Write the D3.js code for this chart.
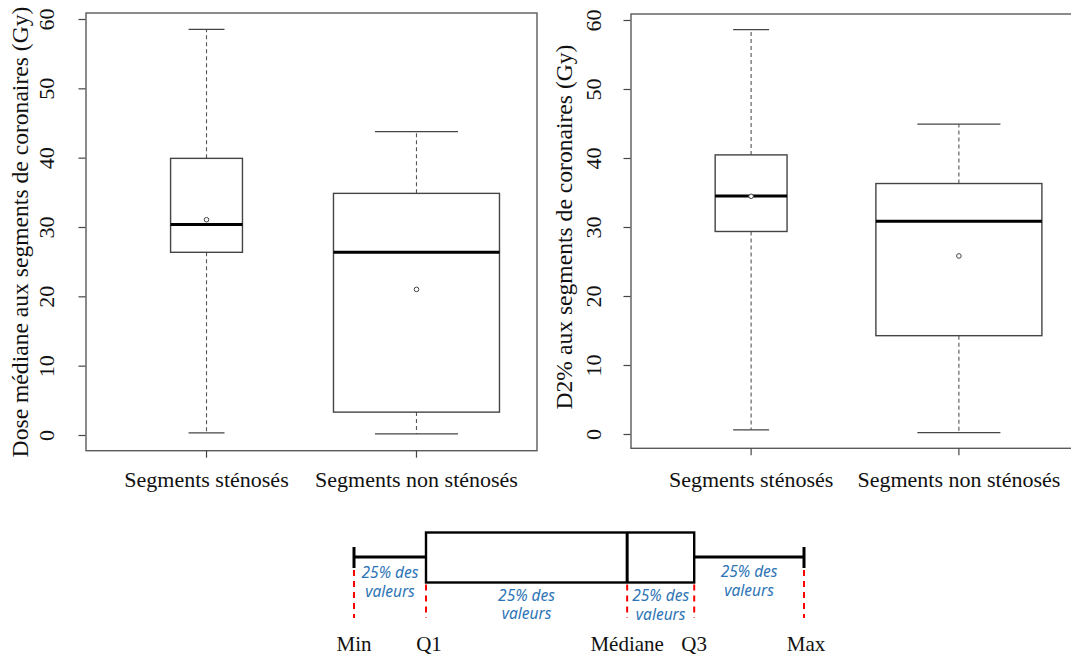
<!DOCTYPE html>
<html>
<head>
<meta charset="utf-8">
<script src="https://cdn.jsdelivr.net/npm/d3@7"></script>
<style>
  html, body { margin: 0; padding: 0; background: #fff; }
  svg { display: block; }
  .serif { font-family: 'Liberation Serif', 'Times New Roman', serif; }
</style>
</head>
<body>
<svg id="chart" width="1071" height="657"></svg>
<script>
// ---------------- DATA ----------------
const categories = ["Segments sténosés", "Segments non sténosés"];
const sampleCounts = [15, 80]; // box widths proportional to sqrt(n)
const yTicks = [0, 10, 20, 30, 40, 50, 60];

// Panel 1: Dose médiane
const doseMin    = [0.3, 0.15];
const doseQ1     = [26.35, 3.3];
const doseMedian = [30.35, 26.35];
const doseQ3     = [39.9, 34.85];
const doseMax    = [58.5, 43.75];
const doseMean   = [31.05, 21.0];

// Panel 2: D2%
const d2Min    = [0.6, 0.2];
const d2Q1     = [29.35, 14.25];
const d2Median = [34.5, 30.85];
const d2Q3     = [40.45, 36.3];
const d2Max    = [58.6, 44.9];
const d2Mean   = [34.45, 25.8];

// Schematic legend
const legendLabels = ["Min", "Q1", "Médiane", "Q3", "Max"];
const legendValues = [0, 16, 60.7, 75.6, 100];
const legendSpanText = ["25% des", "valeurs"];

// ---------------- DRAW ----------------
const svg = d3.select("#chart");
const serif = "'Liberation Serif', 'Times New Roman', serif";

function panel(cfg) {
  const g = svg.append("g");
  const x = d3.scalePoint().domain(categories).range([cfg.x0, cfg.x1]).padding(cfg.pad);
  const y = d3.scaleLinear().domain([0, 60]).range([cfg.yb, cfg.yt]);
  const wScale = d3.scaleSqrt().domain([0, d3.max(sampleCounts)]).range([0, 166]);

  // frame
  g.append("rect")
    .attr("x", cfg.x0).attr("y", cfg.fy0)
    .attr("width", cfg.x1 - cfg.x0).attr("height", cfg.fy1 - cfg.fy0)
    .attr("fill", "none").attr("stroke", "#5a5a5a").attr("stroke-width", 1.4);

  // y axis ticks
  const ax = g.append("g").attr("transform", `translate(${cfg.x0 - 0.5},0)`)
    .call(d3.axisLeft(y).tickValues(yTicks).tickSize(7).tickFormat(d3.format("d")));
  ax.attr("font-family", null).attr("font-size", null).attr("class", "serif");
  ax.select(".domain").remove();
  ax.selectAll(".tick line").attr("stroke", "#444").attr("stroke-width", 1.2);
  ax.selectAll(".tick text")
    .attr("class", "serif")
    .style("font-family", serif).style("font-size", "22px").attr("fill", "#111")
    .attr("text-anchor", "middle")
    .attr("x", 0).attr("y", 0).attr("dy", 0)
    .attr("transform", `translate(${cfg.tickBase - cfg.x0},0) rotate(-90)`);

  // y title
  g.append("text")
    .attr("transform", `translate(${cfg.titleBase},${cfg.titleMid}) rotate(-90)`)
    .attr("text-anchor", "middle")
    .style("font-family", serif).style("font-size", "23.6px").attr("fill", "#111")
    .text(cfg.title);

  // category labels
  g.selectAll("text.cat").data(categories).enter().append("text")
    .attr("class", "cat")
    .attr("x", d => x(d)).attr("y", 487)
    .attr("text-anchor", "middle")
    .style("font-family", serif).style("font-size", "22px").attr("fill", "#111")
    .text(d => d);

  // category tick marks below frame
  g.selectAll("line.ctick").data(categories).enter().append("line")
    .attr("x1", d => x(d)).attr("x2", d => x(d))
    .attr("y1", cfg.fy1).attr("y2", cfg.fy1 + 7)
    .attr("stroke", "#444").attr("stroke-width", 1.2);

  const s = cfg.stats;
  categories.forEach((c, i) => {
    const cx = x(c);
    const w = wScale(sampleCounts[i]);
    const capW = w / 2;
    // whiskers (dashed)
    g.append("line").attr("x1", cx).attr("x2", cx)
      .attr("y1", y(s.q3[i])).attr("y2", y(s.max[i]))
      .attr("stroke", "#555").attr("stroke-width", 1.1).attr("stroke-dasharray", "4,3");
    g.append("line").attr("x1", cx).attr("x2", cx)
      .attr("y1", y(s.q1[i])).attr("y2", y(s.min[i]))
      .attr("stroke", "#555").attr("stroke-width", 1.1).attr("stroke-dasharray", "4,3");
    // caps
    [s.max[i], s.min[i]].forEach(v => {
      g.append("line").attr("x1", cx - capW / 2).attr("x2", cx + capW / 2)
        .attr("y1", y(v)).attr("y2", y(v))
        .attr("stroke", "#444").attr("stroke-width", 1.3);
    });
    // box
    g.append("rect")
      .attr("x", cx - w / 2).attr("y", y(s.q3[i]))
      .attr("width", w).attr("height", y(s.q1[i]) - y(s.q3[i]))
      .attr("fill", "#fff").attr("stroke", "#444").attr("stroke-width", 1.4);
    // median
    g.append("line").attr("x1", cx - w / 2).attr("x2", cx + w / 2)
      .attr("y1", y(s.median[i])).attr("y2", y(s.median[i]))
      .attr("stroke", "#000").attr("stroke-width", 3);
    // mean
    g.append("circle").attr("cx", cx).attr("cy", y(s.mean[i])).attr("r", 2.3)
      .attr("fill", "#fff").attr("stroke", "#444").attr("stroke-width", 1);
  });
}

panel({
  x0: 86, x1: 537, pad: 0.574, fy0: 13, fy1: 450.7, yb: 435, yt: 19,
  tickBase: 54, titleBase: 28, titleMid: 232,
  title: "Dose médiane aux segments de coronaires (Gy)",
  stats: { min: doseMin, q1: doseQ1, median: doseMedian, q3: doseQ3, max: doseMax, mean: doseMean }
});

panel({
  x0: 631, x1: 1079, pad: 0.578, fy0: 14, fy1: 448.3, yb: 434, yt: 20,
  tickBase: 601, titleBase: 572, titleMid: 227,
  title: "D2% aux segments de coronaires (Gy)",
  stats: { min: d2Min, q1: d2Q1, median: d2Median, q3: d2Q3, max: d2Max, mean: d2Mean }
});

// ---------------- SCHEMATIC LEGEND ----------------
const lx = d3.scaleLinear().domain([0, 100]).range([354, 804]);
const L = svg.append("g");
const [vMin, vQ1, vMed, vQ3, vMax] = legendValues;
const boxTop = 532.5, boxBot = 582.5, midY = 557, capTop = 547, capBot = 568, redBot = 618;

// red dashed guides
legendValues.forEach((v, i) => {
  const top = (i === 0 || i === 4) ? capBot : boxBot;
  L.append("line").attr("x1", lx(v)).attr("x2", lx(v))
    .attr("y1", top + 2).attr("y2", redBot)
    .attr("stroke", "#ff0000").attr("stroke-width", 2).attr("stroke-dasharray", "6,5");
});

// whiskers
L.append("line").attr("x1", lx(vMin)).attr("x2", lx(vQ1)).attr("y1", midY).attr("y2", midY)
  .attr("stroke", "#000").attr("stroke-width", 3);
L.append("line").attr("x1", lx(vQ3)).attr("x2", lx(vMax)).attr("y1", midY).attr("y2", midY)
  .attr("stroke", "#000").attr("stroke-width", 3);
[vMin, vMax].forEach(v => {
  L.append("line").attr("x1", lx(v)).attr("x2", lx(v)).attr("y1", capTop).attr("y2", capBot)
    .attr("stroke", "#000").attr("stroke-width", 3);
});
// box
L.append("rect").attr("x", lx(vQ1)).attr("y", boxTop)
  .attr("width", lx(vQ3) - lx(vQ1)).attr("height", boxBot - boxTop)
  .attr("fill", "#fff").attr("stroke", "#000").attr("stroke-width", 2.4);
L.append("line").attr("x1", lx(vMed)).attr("x2", lx(vMed)).attr("y1", boxTop).attr("y2", boxBot)
  .attr("stroke", "#000").attr("stroke-width", 3);

// blue "25% des valeurs" labels
const spanLabels = [
  { c: (lx(vMin) + lx(vQ1)) / 2, y: 572 },
  { c: (lx(vQ1) + lx(vMed)) / 2, y: 594.5 },
  { c: (lx(vMed) + lx(vQ3)) / 2, y: 595 },
  { c: (lx(vQ3) + lx(vMax)) / 2, y: 571 }
];
spanLabels.forEach(sl => {
  legendSpanText.forEach((t, k) => {
    L.append("text").attr("x", sl.c).attr("y", sl.y + k * 18.7)
      .attr("text-anchor", "middle").attr("dominant-baseline", "central")
      .style("font-family", "'Noto Sans', 'Open Sans', sans-serif")
      .style("font-style", "italic").style("font-size", "15.5px")
      .attr("fill", "#2e75b6").text(t);
  });
});

// bottom labels
legendLabels.forEach((t, i) => {
  L.append("text").attr("x", lx(legendValues[i]) + (i === 1 ? 3 : i === 4 ? 2 : 0)).attr("y", 651)
    .attr("text-anchor", "middle")
    .style("font-family", serif).style("font-size", "21px").attr("fill", "#111")
    .text(t);
});
</script>
</body>
</html>
